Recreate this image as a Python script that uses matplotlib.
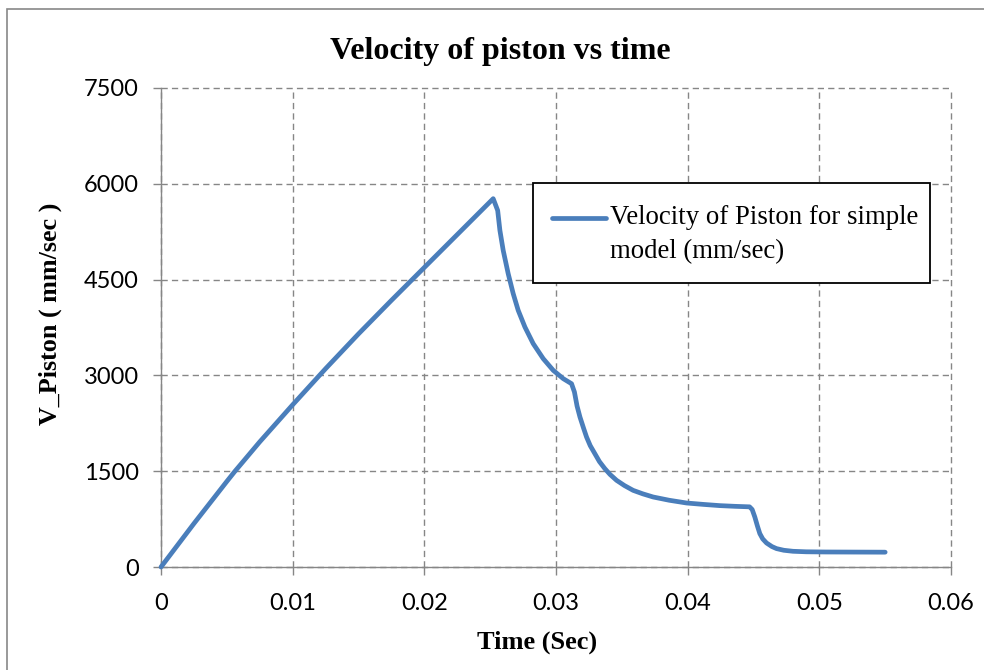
import matplotlib
matplotlib.use("Agg")
import matplotlib.pyplot as plt
from matplotlib.patches import Rectangle
from matplotlib.lines import Line2D

plt.rcParams["lines.scale_dashes"] = False

# Piston velocity for the simple model
time_s = [0.0, 0.0025, 0.005, 0.0056, 0.0075, 0.01, 0.0125, 0.015, 0.0175, 0.02,
          0.02523, 0.02557, 0.02574, 0.02599, 0.02637, 0.02675, 0.02713, 0.02764,
          0.02827, 0.02903, 0.02979, 0.03055, 0.03118,
          0.0314, 0.0316, 0.03182, 0.0321, 0.03232, 0.0326, 0.03295, 0.0333,
          0.03371, 0.0341, 0.0346, 0.0352, 0.03586, 0.0366, 0.03738, 0.0386,
          0.03992, 0.0412, 0.04244, 0.0436, 0.0447,
          0.0449, 0.0451, 0.0453, 0.04548, 0.0457, 0.04599, 0.0464, 0.04675,
          0.0473, 0.048, 0.049, 0.0505, 0.055]
velocity = [0, 680, 1340, 1495, 1960, 2540, 3105, 3650, 4175, 4690,
            5767, 5583, 5270, 4957, 4592, 4280, 4018, 3757,
            3497, 3262, 3079, 2949, 2870,
            2740, 2520, 2348, 2170, 2035, 1900, 1775, 1650,
            1540, 1450, 1357, 1275, 1200, 1145, 1096, 1045,
            1002, 980, 961, 950, 942,
            900, 783, 640, 523, 440, 376, 320, 288,
            262, 246, 238, 235, 232]

series_label = ["Velocity of Piston for simple", "model (mm/sec)"]
title = "Velocity of piston vs time"
x_label = "Time (Sec)"
y_label = "V_Piston ( mm/sec )"
x_ticks = [0, 0.01, 0.02, 0.03, 0.04, 0.05, 0.06]
x_tick_labels = ["0", "0.01", "0.02", "0.03", "0.04", "0.05", "0.06"]
y_ticks = [0, 1500, 3000, 4500, 6000, 7500]

W, H = 984, 670
fig = plt.figure(figsize=(W / 100, H / 100), dpi=100)
ax = fig.add_axes([161 / W, 1 - 567 / H, (951 - 161) / W, (567 - 88) / H])

gray = "#868686"
blue = "#4A7EBB"
ax.plot(time_s, velocity, color=blue, lw=3.4, solid_joinstyle="round",
        solid_capstyle="round", zorder=3, clip_on=False)

ax.set_xlim(0, 0.06)
ax.set_ylim(0, 7500)
ax.set_xticks(x_ticks)
ax.set_xticklabels(x_tick_labels)
ax.set_yticks(y_ticks)

ax.grid(True, color=gray, lw=1.0, linestyle=(0, (4.5, 3.0)))
ax.set_axisbelow(True)
for gl in ax.get_xgridlines() + ax.get_ygridlines():
    gl.set_clip_on(False)
for s in ("top", "right"):
    ax.spines[s].set_visible(False)
for s in ("left", "bottom"):
    ax.spines[s].set_color(gray)
    ax.spines[s].set_linewidth(1.0)

ax.tick_params(axis="both", direction="out", length=6, width=1.0, color=gray,
               labelsize=17, labelcolor="black")
ax.tick_params(axis="x", pad=13)
ax.tick_params(axis="y", pad=10)
for lab in ax.get_xticklabels() + ax.get_yticklabels():
    lab.set_family("Lato")

serif = "Liberation Serif"
fig.text(500 / W, 1 - 51 / H, title, ha="center", va="center",
         fontsize=23, fontweight="bold", family=serif)
fig.text(537 / W, 1 - 642 / H, x_label, ha="center", va="center",
         fontsize=19, fontweight="bold", family=serif)
fig.text(50 / W, 1 - 314 / H, y_label, ha="center", va="center", rotation=90,
         fontsize=18.8, fontweight="bold", family=serif)

# Legend box with the series swatch beside the first text line
fig.patches.append(Rectangle((533 / W, 1 - 283 / H), (930 - 533) / W, (283 - 183) / H,
                             transform=fig.transFigure, facecolor="white",
                             edgecolor="black", lw=1.3, zorder=5))
fig.lines.append(Line2D([552 / W, 606 / W], [1 - 218 / H, 1 - 218 / H],
                        transform=fig.transFigure, color=blue, lw=3.4,
                        solid_capstyle="round", zorder=6))
for i, line in enumerate(series_label):
    fig.text(610 / W, 1 - (218 + 34 * i) / H, line, ha="left", va="center",
             fontsize=19.3, family=serif, zorder=6)

# Chart area border
fig.patches.append(Rectangle((7 / W, -0.1), 1.2, 1 - 9 / H + 0.1,
                             transform=fig.transFigure, fill=False,
                             edgecolor="#888888", lw=1.2))

fig.savefig("out.png", dpi=100)
